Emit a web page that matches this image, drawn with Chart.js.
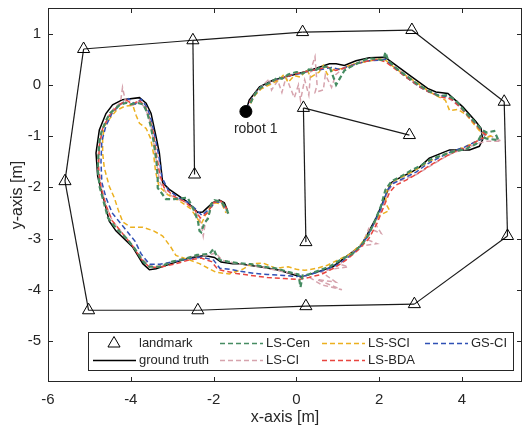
<!DOCTYPE html>
<html lang="en">
<head>
<meta charset="UTF-8">
<title>Trajectories</title>
<script src="https://cdn.jsdelivr.net/npm/chart.js"></script>
<style>
  html, body { margin: 0; padding: 0; background: #fff; }
  #wrap { width: 524px; height: 429px; }
</style>
</head>
<body>
<div id="wrap"><canvas id="chart" width="524" height="429"></canvas></div>
<script>
// ---- data ----
const xTicks = [-6, -4, -2, 0, 2, 4];
const yTicks = [-5, -4, -3, -2, -1, 0, 1];

const landmarkX = [-5.14, -2.50, 0.15, 2.79, 5.02, 5.10, 2.85, 0.23, -2.38, -5.02, -5.59, -2.46, 0.17, 0.23, 2.73];
const landmarkY = [0.70, 0.87, 1.03, 1.07, -0.33, -2.95, -4.28, -4.32, -4.40, -4.40, -1.88, -1.75, -0.45, -3.07, -0.98];
// which landmarks are joined by a line
const landmarkLinks = [[0,1],[1,2],[2,3],[3,4],[4,5],[5,6],[6,7],[7,8],[8,9],[9,10],[10,0],[1,11],[12,13],[12,14]];

const robotStart = [-1.22, -0.52];
const robotName = 'robot 1';

const groundTruth = [
  [-1.22,-0.52],[-1.14,-0.30],[-0.89,-0.04],[-0.57,0.09],[-0.09,0.19],[0.39,0.30],[0.80,0.41],[0.96,0.41],
  [1.16,0.38],[1.44,0.47],[1.76,0.53],[2.08,0.54],[2.17,0.52],[2.41,0.38],[2.73,0.19],[3.17,-0.07],
  [3.37,-0.14],[3.66,-0.17],[4.02,-0.43],[4.34,-0.72],[4.46,-0.85],[4.50,-1.07],[4.42,-1.20],[4.18,-1.27],
  [3.70,-1.27],[3.21,-1.43],[2.97,-1.61],[2.81,-1.69],[2.41,-1.85],[2.29,-1.91],[1.93,-2.59],[1.72,-2.91],
  [1.56,-3.14],[0.88,-3.55],[0.48,-3.66],[0.11,-3.75],[-0.41,-3.62],[-0.81,-3.56],[-1.38,-3.49],[-1.54,-3.49],
  [-1.82,-3.46],[-1.98,-3.37],[-2.22,-3.33],[-2.59,-3.38],[-2.91,-3.46],[-3.39,-3.59],[-3.55,-3.61],[-3.71,-3.49],
  [-3.95,-3.17],[-4.36,-2.85],[-4.52,-2.66],[-4.64,-2.27],[-4.68,-2.17],[-4.80,-1.78],[-4.84,-1.33],[-4.76,-0.88],
  [-4.60,-0.56],[-4.44,-0.39],[-4.20,-0.29],[-3.79,-0.25],[-3.63,-0.36],[-3.51,-0.56],[-3.39,-1.01],[-3.31,-1.33],
  [-3.23,-1.91],[-3.07,-2.04],[-2.66,-2.27],[-2.38,-2.49],[-2.26,-2.48],[-2.02,-2.30],[-1.86,-2.25],[-1.74,-2.30],
  [-1.66,-2.46]
];

const lsCen = [
  [-1.18,-0.50],[-1.12,-0.38],[-1.05,-0.25],[-0.95,-0.12],[-0.85,-0.05],[-0.70,0.02],[-0.60,0.05],[-0.45,0.15],
  [-0.35,0.12],[-0.20,0.20],[0.00,0.25],[0.15,0.22],[0.30,0.30],[0.45,0.28],[0.60,0.35],[0.80,0.36],
  [0.96,0.00],[1.16,0.28],[1.30,0.35],[1.55,0.45],[1.75,0.52],[1.95,0.50],[2.10,0.48],[2.15,0.64],
  [2.22,0.47],[2.40,0.33],[2.70,0.15],[2.95,0.00],[3.20,-0.12],[3.45,-0.22],[3.65,-0.20],[3.85,-0.30],
  [4.05,-0.50],[4.30,-0.72],[4.48,-0.88],[4.60,-0.93],[4.78,-0.90],[4.88,-1.08],[4.60,-1.05],[4.45,-1.00],
  [4.35,-1.15],[4.10,-1.25],[3.80,-1.30],[3.50,-1.38],[3.25,-1.45],[3.00,-1.58],[2.75,-1.68],[2.50,-1.80],
  [2.30,-1.88],[2.15,-2.05],[2.05,-2.35],[1.90,-2.65],[1.75,-2.92],[1.60,-3.10],[1.35,-3.30],[1.10,-3.40],
  [0.80,-3.55],[0.55,-3.62],[0.30,-3.70],[0.15,-3.72],[0.10,-3.95],[0.05,-3.70],[-0.20,-3.65],[-0.50,-3.58],
  [-0.80,-3.55],[-1.10,-3.50],[-1.40,-3.48],[-1.65,-3.45],[-1.85,-3.42],[-1.95,-3.30],[-2.00,-3.20],[-2.10,-3.30],
  [-2.40,-3.32],[-2.70,-3.40],[-3.00,-3.45],[-3.30,-3.55],[-3.55,-3.55],[-3.70,-3.45],[-3.90,-3.20],[-4.10,-3.00],
  [-4.35,-2.80],[-4.55,-2.60],[-4.65,-2.30],[-4.75,-2.00],[-4.80,-1.65],[-4.78,-1.35],[-4.75,-1.05],[-4.70,-0.90],
  [-4.60,-0.70],[-4.50,-0.55],[-4.35,-0.45],[-4.25,-0.38],[-4.10,-0.35],[-4.00,-0.38],[-3.85,-0.35],[-3.70,-0.38],
  [-3.60,-0.55],[-3.52,-0.80],[-3.45,-1.10],[-3.38,-1.50],[-3.35,-1.80],[-3.35,-2.01],[-3.15,-2.23],[-2.95,-2.23],
  [-2.63,-2.20],[-2.50,-2.40],[-2.38,-2.65],[-2.34,-2.85],[-2.30,-2.88],[-2.22,-2.69],[-2.14,-2.62],[-2.10,-2.49],
  [-2.06,-2.33],[-1.98,-2.25],[-1.82,-2.28],[-1.70,-2.40],[-1.62,-2.56]
];

const lsCI = [
  [-1.18,-0.48],[-1.10,-0.30],[-0.95,-0.12],[-0.80,0.00],[-0.65,0.12],[-0.60,-0.10],[-0.45,0.08],[-0.35,-0.15],
  [-0.25,0.15],[-0.15,-0.05],[-0.05,-0.25],[0.05,0.00],[0.10,-0.30],[0.20,0.10],[0.30,-0.20],[0.35,0.30],
  [0.45,0.55],[0.50,0.00],[0.45,-0.15],[0.65,-0.10],[0.70,0.20],[0.85,-0.05],[0.95,0.20],[1.10,0.30],
  [1.35,0.38],[1.60,0.45],[1.85,0.48],[2.10,0.50],[2.30,0.40],[2.55,0.25],[2.85,0.05],[3.10,-0.08],
  [3.40,-0.20],[3.65,-0.24],[3.90,-0.40],[4.15,-0.62],[4.35,-0.80],[4.50,-0.95],[4.70,-1.00],[4.95,-1.10],
  [4.60,-1.10],[4.35,-1.15],[4.10,-1.25],[3.80,-1.32],[3.50,-1.45],[3.20,-1.60],[2.90,-1.75],[2.60,-1.85],
  [2.35,-1.90],[2.20,-2.10],[2.05,-2.45],[1.90,-2.70],[2.05,-2.90],[1.75,-2.80],[1.65,-3.00],[1.95,-3.10],
  [1.55,-3.15],[1.30,-3.30],[1.05,-3.50],[1.25,-3.55],[0.85,-3.60],[0.60,-3.65],[0.95,-3.85],[0.50,-3.80],
  [1.10,-4.00],[0.60,-3.90],[0.30,-3.75],[0.05,-3.70],[-0.30,-3.65],[-0.70,-3.58],[-1.10,-3.52],[-1.50,-3.48],
  [-1.80,-3.42],[-1.95,-3.28],[-2.10,-3.32],[-2.45,-3.34],[-2.80,-3.40],[-3.15,-3.50],[-3.45,-3.56],[-3.70,-3.42],
  [-3.95,-3.15],[-4.20,-2.90],[-4.45,-2.65],[-4.60,-2.35],[-4.72,-2.00],[-4.80,-1.60],[-4.78,-1.25],[-4.70,-0.90],
  [-4.55,-0.62],[-4.40,-0.45],[-4.25,-0.35],[-4.20,-0.05],[-4.12,-0.35],[-3.95,-0.40],[-3.80,-0.32],[-3.65,-0.45],
  [-3.52,-0.75],[-3.45,-1.10],[-3.38,-1.50],[-3.30,-1.90],[-3.15,-2.10],[-2.90,-2.22],[-2.65,-2.30],[-2.45,-2.45],
  [-2.30,-2.70],[-2.25,-2.95],[-2.20,-2.70],[-2.10,-2.50],[-2.00,-2.30],[-1.85,-2.28],[-1.72,-2.40],[-1.66,-2.52]
];

const lsSCI = [
  [-1.20,-0.50],[-1.10,-0.35],[-1.00,-0.20],[-0.85,-0.08],[-0.65,0.00],[-0.45,0.08],[-0.30,0.20],[-0.20,0.05],
  [-0.05,0.18],[0.10,0.15],[0.25,0.30],[0.35,0.15],[0.55,0.25],[0.65,0.38],[0.75,0.20],[0.90,0.30],
  [1.10,0.32],[1.35,0.40],[1.60,0.44],[1.85,0.48],[2.10,0.52],[2.30,0.38],[2.60,0.20],[2.90,0.05],
  [3.15,-0.10],[3.40,-0.22],[3.60,-0.30],[3.70,-0.50],[3.90,-0.48],[4.10,-0.58],[4.30,-0.78],[4.45,-0.92],
  [4.70,-1.00],[4.50,-1.05],[4.30,-1.12],[4.05,-1.22],[3.75,-1.30],[3.45,-1.40],[3.15,-1.52],[2.90,-1.65],
  [2.60,-1.78],[2.35,-1.88],[2.20,-2.00],[2.15,-2.30],[2.25,-2.45],[2.00,-2.55],[1.85,-2.75],[1.70,-2.95],
  [1.55,-3.12],[1.30,-3.30],[1.00,-3.42],[0.75,-3.52],[0.50,-3.58],[0.20,-3.62],[0.00,-3.60],[-0.20,-3.55],
  [-0.50,-3.58],[-0.80,-3.48],[-1.06,-3.49],[-1.30,-3.60],[-1.62,-3.69],[-1.94,-3.66],[-2.34,-3.49],[-2.65,-3.40],
  [-2.91,-3.33],[-3.03,-3.17],[-3.23,-2.95],[-3.45,-2.85],[-3.71,-2.78],[-4.00,-2.78],[-4.19,-2.68],[-4.30,-2.45],
  [-4.40,-2.20],[-4.52,-1.98],[-4.64,-1.62],[-4.68,-1.33],[-4.68,-1.07],[-4.64,-0.81],[-4.50,-0.65],[-4.35,-0.50],
  [-4.15,-0.42],[-3.95,-0.40],[-3.87,-0.60],[-3.79,-0.75],[-3.63,-0.85],[-3.52,-1.05],[-3.45,-1.35],[-3.40,-1.70],
  [-3.32,-1.98],[-3.10,-2.15],[-2.80,-2.28],[-2.55,-2.42],[-2.40,-2.60],[-2.30,-2.72],[-2.20,-2.55],[-2.08,-2.38],
  [-1.95,-2.30],[-1.80,-2.33],[-1.70,-2.50]
];

const lsBDA = [
  [-1.20,-0.50],[-1.10,-0.30],[-0.95,-0.12],[-0.78,-0.02],[-0.60,0.06],[-0.40,0.12],[-0.20,0.17],[0.00,0.22],
  [0.25,0.26],[0.50,0.30],[0.75,0.35],[0.95,0.28],[1.20,0.34],[1.45,0.42],[1.70,0.46],[1.95,0.50],
  [2.15,0.45],[2.40,0.30],[2.70,0.12],[3.00,-0.05],[3.25,-0.16],[3.50,-0.24],[3.75,-0.28],[4.00,-0.47],
  [4.25,-0.70],[4.45,-0.88],[4.60,-1.00],[4.40,-1.08],[4.15,-1.20],[3.85,-1.30],[3.55,-1.42],[3.25,-1.56],
  [2.95,-1.72],[2.65,-1.86],[2.40,-1.96],[2.25,-2.10],[2.10,-2.40],[1.95,-2.70],[1.75,-3.00],[1.50,-3.22],
  [1.20,-3.42],[0.90,-3.58],[0.60,-3.70],[0.30,-3.76],[0.05,-3.80],[-0.30,-3.78],[-0.70,-3.76],[-1.10,-3.72],
  [-1.45,-3.68],[-1.70,-3.64],[-1.90,-3.60],[-2.05,-3.45],[-2.30,-3.38],[-2.60,-3.42],[-2.95,-3.50],[-3.30,-3.56],
  [-3.55,-3.56],[-3.75,-3.40],[-3.95,-3.15],[-4.20,-2.90],[-4.45,-2.65],[-4.60,-2.35],[-4.72,-2.00],[-4.78,-1.60],
  [-4.76,-1.20],[-4.68,-0.85],[-4.50,-0.58],[-4.30,-0.40],[-4.10,-0.30],[-3.95,-0.38],[-3.80,-0.30],[-3.65,-0.42],
  [-3.55,-0.65],[-3.45,-0.95],[-3.38,-1.35],[-3.30,-1.75],[-3.20,-2.00],[-2.95,-2.18],[-2.70,-2.28],[-2.45,-2.45],
  [-2.32,-2.60],[-2.15,-2.50],[-2.00,-2.30],[-1.85,-2.25],[-1.72,-2.35],[-1.65,-2.50]
];

const gsCI = [
  [-1.20,-0.48],[-1.12,-0.32],[-1.00,-0.18],[-0.88,-0.06],[-0.70,0.02],[-0.50,0.10],[-0.30,0.14],[-0.10,0.20],
  [0.10,0.22],[0.35,0.28],[0.60,0.30],[0.85,0.34],[1.05,0.30],[1.25,0.36],[1.50,0.42],[1.75,0.47],
  [2.00,0.48],[2.15,0.50],[2.35,0.35],[2.65,0.15],[2.95,-0.03],[3.20,-0.14],[3.45,-0.20],[3.70,-0.24],
  [3.95,-0.42],[4.20,-0.65],[4.40,-0.82],[4.55,-0.95],[4.50,-1.05],[4.30,-1.12],[4.05,-1.22],[3.75,-1.30],
  [3.45,-1.42],[3.15,-1.55],[2.90,-1.70],[2.60,-1.82],[2.35,-1.92],[2.20,-2.05],[2.05,-2.40],[1.85,-2.75],
  [1.70,-2.98],[1.50,-3.20],[1.20,-3.40],[0.90,-3.55],[0.55,-3.65],[0.25,-3.72],[0.00,-3.74],[-0.30,-3.72],
  [-0.70,-3.70],[-1.00,-3.68],[-1.35,-3.64],[-1.60,-3.60],[-1.85,-3.58],[-2.00,-3.42],[-2.30,-3.36],[-2.60,-3.40],
  [-2.95,-3.45],[-3.30,-3.50],[-3.55,-3.50],[-3.75,-3.30],[-3.90,-3.05],[-4.15,-2.80],[-4.45,-2.50],[-4.60,-2.20],
  [-4.70,-1.90],[-4.72,-1.50],[-4.70,-1.10],[-4.60,-0.80],[-4.45,-0.55],[-4.25,-0.38],[-4.05,-0.27],[-3.90,-0.38],
  [-3.75,-0.28],[-3.60,-0.45],[-3.50,-0.70],[-3.42,-1.00],[-3.32,-1.40],[-3.25,-1.80],[-3.10,-2.05],[-2.85,-2.20],
  [-2.60,-2.30],[-2.40,-2.45],[-2.28,-2.55],[-2.10,-2.42],[-1.95,-2.28],[-1.80,-2.30],[-1.70,-2.45]
];

// ---- styles ----
const TEXT = '#262626';
const FONT = '"Liberation Sans", Arial, sans-serif';
const estimates = [
  { label: 'LS-Cen', data: lsCen, color: '#468c62', width: 2.2 },
  { label: 'LS-BDA', data: lsBDA, color: '#e8453f', width: 1.5 },
  { label: 'GS-CI', data: gsCI, color: '#2f50b5', width: 1.5 },
  { label: 'LS-SCI', data: lsSCI, color: '#ecb01f', width: 1.5 },
  { label: 'LS-CI', data: lsCI, color: '#d6a3ad', width: 1.5 }
];

function pts(arr) { return arr.map(p => ({ x: p[0], y: p[1] })); }

const datasets = [];
datasets.push({
  label: robotName, data: [{ x: robotStart[0], y: robotStart[1] }],
  pointRadius: 6, pointBackgroundColor: '#000', pointBorderColor: '#000', showLine: false
});
datasets.push({
  label: 'landmark', data: landmarkX.map((v, i) => ({ x: v, y: landmarkY[i] })),
  pointStyle: 'triangle', pointRadius: 7, pointBorderWidth: 1,
  pointBackgroundColor: 'rgba(0,0,0,0)', pointBorderColor: '#000', showLine: false
});
estimates.forEach(e => datasets.push({
  label: e.label, data: pts(e.data), showLine: true, pointRadius: 0,
  borderColor: e.color, borderWidth: e.width, borderDash: [5, 3], tension: 0
}));
datasets.push({
  label: 'ground truth', data: pts(groundTruth), showLine: true, pointRadius: 0,
  borderColor: '#000', borderWidth: 1.5, tension: 0
});
landmarkLinks.forEach(l => datasets.push({
  label: 'link', data: [{ x: landmarkX[l[0]], y: landmarkY[l[0]] }, { x: landmarkX[l[1]], y: landmarkY[l[1]] }],
  showLine: true, pointRadius: 0, borderColor: '#1a1a1a', borderWidth: 1.2
}));

// legend entries: column-major like the original
const legendCols = [
  [{ label: 'landmark', marker: true }, { label: 'ground truth', color: '#000', dash: [] }],
  [{ label: 'LS-Cen', color: '#468c62', dash: [5, 3] }, { label: 'LS-CI', color: '#d6a3ad', dash: [5, 3] }],
  [{ label: 'LS-SCI', color: '#ecb01f', dash: [5, 3] }, { label: 'LS-BDA', color: '#e8453f', dash: [5, 3] }],
  [{ label: 'GS-CI', color: '#2f50b5', dash: [5, 3] }]
];

// pin the plot box to where the original has it
const PLOT_RIGHT = 522;
const pinArea = {
  id: 'pinArea',
  afterLayout(chart) {
    const sx = chart.scales.x;
    sx.right = PLOT_RIGHT;
    sx.width = sx.right - sx.left;
    sx.configure();
    chart.chartArea.right = PLOT_RIGHT;
    chart.chartArea.width = PLOT_RIGHT - chart.chartArea.left;
  }
};

const decor = {
  id: 'decor',
  afterDatasetsDraw(chart) {
    const { ctx, chartArea: a, scales } = chart;
    const sx = scales.x, sy = scales.y;
    ctx.save();
    ctx.strokeStyle = TEXT;
    ctx.lineWidth = 1;
    ctx.setLineDash([]);
    // box
    ctx.strokeRect(a.left + 0.5, a.top + 0.5, a.right - a.left - 1, a.bottom - a.top - 1);
    // inward ticks on all sides
    ctx.beginPath();
    xTicks.forEach(v => {
      const px = Math.round(sx.getPixelForValue(v)) + 0.5;
      ctx.moveTo(px, a.bottom); ctx.lineTo(px, a.bottom - 5);
      ctx.moveTo(px, a.top); ctx.lineTo(px, a.top + 5);
    });
    yTicks.forEach(v => {
      const py = Math.round(sy.getPixelForValue(v)) + 0.5;
      ctx.moveTo(a.left, py); ctx.lineTo(a.left + 5, py);
      ctx.moveTo(a.right, py); ctx.lineTo(a.right - 5, py);
    });
    ctx.stroke();

    // robot label
    ctx.fillStyle = TEXT;
    ctx.font = '14px ' + FONT;
    ctx.textBaseline = 'middle';
    ctx.textAlign = 'left';
    const rx = sx.getPixelForValue(robotStart[0]);
    const ry = sy.getPixelForValue(robotStart[1]);
    ctx.fillText(robotName, rx - 12, ry + 18);

    // axis titles
    ctx.font = '16px ' + FONT;
    ctx.textAlign = 'center';
    ctx.fillText('x-axis [m]', (a.left + a.right) / 2, 418);
    ctx.save();
    ctx.translate(18, (a.top + a.bottom) / 2);
    ctx.rotate(-Math.PI / 2);
    ctx.fillText('y-axis [m]', 0, 0);
    ctx.restore();

    // legend
    const bx = 88, by = 332, bw = 425, bh = 38;
    ctx.fillStyle = '#fff';
    ctx.fillRect(bx, by, bw, bh);
    ctx.strokeStyle = TEXT;
    ctx.strokeRect(bx + 0.5, by + 0.5, bw, bh);
    const colX = [93, 220, 322, 425];
    const rowY = [343.5, 360.5];
    ctx.font = '13px ' + FONT;
    ctx.textAlign = 'left';
    legendCols.forEach((col, ci) => {
      col.forEach((it, ri) => {
        const x0 = colX[ci], yy = rowY[ri];
        if (it.marker) {
          const cx = x0 + 21, r = 7;
          ctx.strokeStyle = '#000';
          ctx.setLineDash([]);
          ctx.beginPath();
          ctx.moveTo(cx, yy - r);
          ctx.lineTo(cx + r * 0.866, yy + r * 0.5);
          ctx.lineTo(cx - r * 0.866, yy + r * 0.5);
          ctx.closePath();
          ctx.stroke();
        } else {
          ctx.strokeStyle = it.color;
          ctx.lineWidth = 1.5;
          ctx.setLineDash(it.dash);
          ctx.beginPath();
          ctx.moveTo(x0, yy); ctx.lineTo(x0 + 43, yy);
          ctx.stroke();
          ctx.lineWidth = 1;
        }
        ctx.setLineDash([]);
        ctx.fillStyle = TEXT;
        ctx.fillText(it.label, x0 + 46, yy);
      });
    });
    ctx.restore();
  }
};

new Chart(document.getElementById('chart'), {
  type: 'scatter',
  data: { datasets },
  options: {
    responsive: false,
    animation: false,
    devicePixelRatio: 1,
    layout: { padding: { top: 5, right: 2, left: 0, bottom: 0 } },
    plugins: { legend: { display: false }, tooltip: { enabled: false } },
    scales: {
      x: {
        type: 'linear', min: -6, max: 5.45,
        grid: { display: false, drawTicks: false },
        border: { display: false },
        ticks: { color: TEXT, font: { size: 15, family: FONT }, padding: 9, maxRotation: 0 },
        afterBuildTicks: s => { s.ticks = xTicks.map(v => ({ value: v })); },
        afterFit: s => { s.height = 47; s.paddingLeft = 0; s.paddingRight = 0; }
      },
      y: {
        type: 'linear', min: -5.8, max: 1.5,
        grid: { display: false, drawTicks: false },
        border: { display: false },
        ticks: { color: TEXT, font: { size: 15, family: FONT }, padding: 7 },
        afterBuildTicks: s => { s.ticks = yTicks.map(v => ({ value: v })); },
        afterFit: s => { s.width = 48; s.paddingTop = 0; s.paddingBottom = 0; }
      }
    }
  },
  plugins: [pinArea, decor]
});
</script>
</body>
</html>
